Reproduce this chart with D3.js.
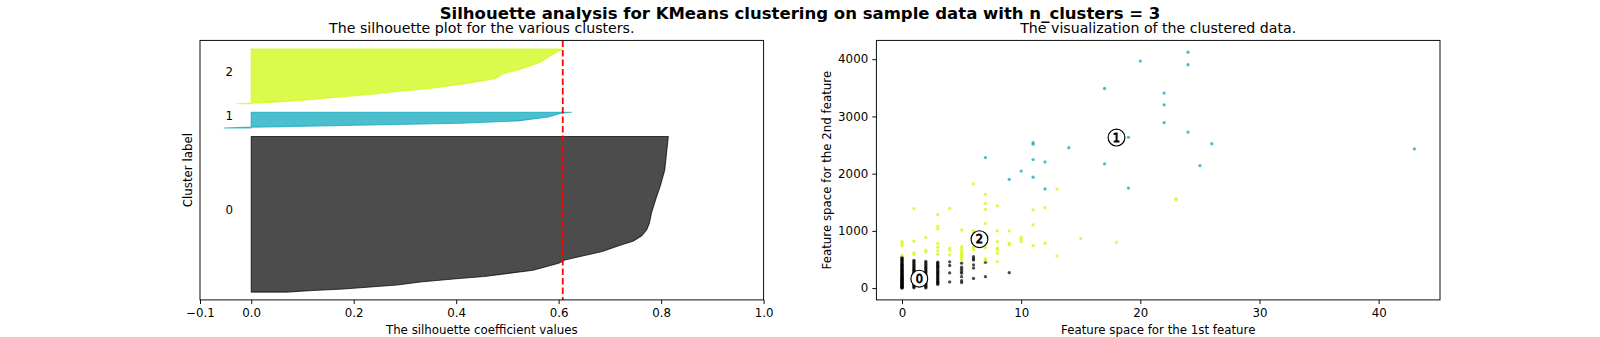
<!DOCTYPE html>
<html><head><meta charset="utf-8">
<script src="https://cdn.jsdelivr.net/npm/d3@7"></script>
<style>body{margin:0;background:#fff}svg{display:block}text{font-family:"DejaVu Sans",sans-serif;fill:#000}</style>
</head><body><svg id="c" width="1600" height="337"></svg>
<script>
// ---------------- data ----------------
const clusterIds = [0, 1, 2];
const clusterSizes = [200, 21, 71];
const clusterColors = ["#000000", "#00a4bb", "#ccf900"];
const avgSilhouette = 0.608;

// silhouette outline vertices: rank within cluster -> silhouette value
const sil0Rank  = [0, 2, 4, 9, 13, 17, 20, 28, 37, 41, 52, 60, 65, 72, 80, 88, 101, 122, 135, 156, 199];
const sil0Value = [0.069, 0.12, 0.18, 0.285, 0.33, 0.40, 0.455, 0.55, 0.60, 0.612, 0.685, 0.72, 0.745, 0.762, 0.772, 0.777, 0.781, 0.791, 0.798, 0.807, 0.814];
const sil1Rank  = [0, 1, 3, 6, 9, 14, 19, 20];
const sil1Value = [-0.053, 0.0, 0.16, 0.41, 0.52, 0.58, 0.606, 0.625];
const sil2Rank  = [0, 1, 2, 5, 8, 12, 16, 20, 26, 32, 38, 44, 53, 61, 67, 70];
const sil2Value = [-0.028, 0.01, 0.04, 0.115, 0.16, 0.232, 0.29, 0.355, 0.42, 0.476, 0.49, 0.525, 0.564, 0.583, 0.60, 0.606];

const silTicks = [-0.1, 0.0, 0.2, 0.4, 0.6, 0.8, 1.0];
const scatterXTicks = [0, 10, 20, 30, 40];
const scatterYTicks = [0, 1000, 2000, 3000, 4000];

// cluster 0 (black) points, grouped by 1st feature value
const c0Cols = [0, 1, 2, 3, 4, 5, 6, 7, 9];
const c0ColY = [
  [0, 8, 15, 25, 33, 42, 50, 60, 70, 78, 88, 97, 105, 115, 125, 133, 142, 152, 160, 170, 180, 190, 200, 212, 222, 235, 245, 258, 270, 282, 295, 305, 318, 330, 345, 360, 372, 388, 400, 415, 432, 448, 465, 485, 500, 520, 538],
  [5, 22, 40, 58, 72, 90, 108, 125, 145, 162, 180, 198, 215, 235, 255, 272, 290, 310, 330, 352, 370, 392, 415, 440, 462, 485],
  [3, 20, 38, 55, 75, 95, 115, 135, 158, 178, 200, 222, 245, 268, 290, 315, 340, 362, 388, 412, 440, 465],
  [65, 85, 102, 120, 140, 158, 178, 195, 215, 235, 255, 275, 295, 318, 338, 360, 380, 400, 420, 440, 455],
  [460, 395, 265, 108],
  [435, 365, 330, 290, 260, 200, 130, 96],
  [548, 515, 490, 405, 350, 170],
  [450, 200],
  [270]
];
// cluster 1 (cyan) points
const c1X = [7, 9, 10, 11, 11, 11, 11, 12, 12, 14, 17, 17, 19, 19, 20, 22, 22, 22, 24, 24, 24, 25, 26, 43];
const c1Y = [2280, 1900, 2045, 2540, 2515, 2245, 1937, 2205, 1732, 2452, 3488, 2172, 2635, 1748, 3966, 3408, 3203, 2890, 4122, 3903, 2726, 2139, 2522, 2431];
// cluster 2 (yellow-green) points, grouped by 1st feature value
const c2Cols = [0, 1, 2, 3, 4, 5, 6, 7, 8, 9, 10, 11, 12, 13, 15, 18, 23];
const c2ColY = [
  [815, 780, 740, 575],
  [1390, 820, 615, 590],
  [885, 660, 630],
  [1285, 1080, 1035, 780, 715, 650, 590],
  [1392, 697, 660, 580],
  [1015, 725, 690, 650, 610, 575, 540, 500],
  [1820, 1000, 975, 710, 670],
  [1640, 1480, 1375, 1130, 705, 510, 485],
  [1436, 999, 812, 697, 672, 609, 463],
  [999, 784, 754],
  [890, 850, 810],
  [1366, 1104, 742],
  [1406, 784],
  [1732, 562],
  [865],
  [800],
  [1560, 1540]
];
const centerX = [1.45, 18.0, 6.5];
const centerY = [165, 2630, 855];

// ---------------- layout ----------------
const svg = d3.select("#c");
const axTop = 40.4, axBottom = 299.9;
const L = [200, 763.6], R = [876.4, 1440];
const pt = 100 / 72 * 0.85;
const tickLen = 3.5 * pt, tickPad = 3.5 * pt;
const fsTick = 10 * pt, fsTitle = 12 * pt, fsSup = 14 * pt;

svg.append("text").attr("x", 800).attr("y", 18.5).attr("text-anchor", "middle")
  .attr("font-size", fsSup).attr("font-weight", "bold")
  .text("Silhouette analysis for KMeans clustering on sample data with n_clusters = 3");

// ---------------- silhouette plot ----------------
const silRanks = [sil0Rank, sil1Rank, sil2Rank];
const silValues = [sil0Value, sil1Value, sil2Value];
const N = d3.sum(clusterSizes);
const sx = d3.scaleLinear().domain([-0.1, 1.0]).range(L);
const sy = d3.scaleLinear().domain([0, N + (clusterSizes.length + 1) * 10]).range([axBottom, axTop]);
const g1 = svg.append("g");
let yLower = 10;
clusterIds.forEach((c, i) => {
  const pts = silRanks[i].map((r, j) => ({ y: yLower + r, v: silValues[i][j] }));
  const area = d3.area().y(d => sy(d.y)).x0(sx(0)).x1(d => sx(d.v));
  g1.append("path").attr("d", area(pts))
    .attr("fill", clusterColors[i]).attr("fill-opacity", 0.7)
    .attr("stroke", clusterColors[i]).attr("stroke-opacity", 0.7).attr("stroke-width", 1.1)
    .attr("stroke-linejoin", "round");
  g1.append("text").attr("x", sx(-0.05)).attr("y", sy(yLower + 0.5 * clusterSizes[i]))
    .attr("font-size", fsTick).text(String(c));
  yLower += clusterSizes[i] + 10;
});
g1.append("line").attr("x1", sx(avgSilhouette)).attr("x2", sx(avgSilhouette))
  .attr("y1", axTop).attr("y2", axBottom)
  .attr("stroke", "red").attr("stroke-width", 1.5 * pt).attr("stroke-dasharray", "6.6,2.9");

svg.append("g").attr("transform", `translate(0,${axBottom})`)
  .call(d3.axisBottom(sx).tickValues(silTicks).tickFormat(d3.format(".1f"))
    .tickSize(tickLen).tickPadding(tickPad).tickSizeOuter(0));
svg.append("rect").attr("x", L[0]).attr("y", axTop).attr("width", L[1] - L[0]).attr("height", axBottom - axTop)
  .attr("fill", "none").attr("stroke", "#000").attr("stroke-width", 0.8 * pt);
svg.append("text").attr("x", (L[0] + L[1]) / 2).attr("y", 33).attr("text-anchor", "middle")
  .attr("font-size", fsTitle).text("The silhouette plot for the various clusters.");
svg.append("text").attr("x", (L[0] + L[1]) / 2).attr("y", 334).attr("text-anchor", "middle")
  .attr("font-size", fsTick).text("The silhouette coefficient values");
svg.append("text").attr("transform", `translate(188,${(axTop + axBottom) / 2}) rotate(-90)`)
  .attr("text-anchor", "middle").attr("dy", "0.35em").attr("font-size", fsTick).text("Cluster label");

// ---------------- scatter plot ----------------
const pts = [];
c0Cols.forEach((x, i) => c0ColY[i].forEach(y => pts.push({ x, y, c: 0 })));
c1X.forEach((x, i) => pts.push({ x, y: c1Y[i], c: 1 }));
c2Cols.forEach((x, i) => c2ColY[i].forEach(y => pts.push({ x, y, c: 2 })));
const xe = d3.extent(pts, d => d.x), ye = d3.extent(pts, d => d.y);
const mx = (xe[1] - xe[0]) * 0.05, my = (ye[1] - ye[0]) * 0.05;
const px = d3.scaleLinear().domain([xe[0] - mx, xe[1] + mx]).range(R);
const py = d3.scaleLinear().domain([ye[0] - my, ye[1] + my]).range([axBottom, axTop]);
const g2 = svg.append("g");
g2.selectAll("circle.pt").data(pts).join("circle").attr("class", "pt")
  .attr("cx", d => px(d.x)).attr("cy", d => py(d.y)).attr("r", 1.65)
  .attr("fill", d => clusterColors[d.c]).attr("fill-opacity", 0.7);
clusterIds.forEach((c, i) => {
  g2.append("circle").attr("cx", px(centerX[i])).attr("cy", py(centerY[i])).attr("r", 8.4)
    .attr("fill", "#fff").attr("stroke", "#000").attr("stroke-width", pt);
  g2.append("text").attr("x", px(centerX[i])).attr("y", py(centerY[i])).attr("dy", "0.36em")
    .attr("text-anchor", "middle").attr("font-size", 11.4).attr("stroke", "#000").attr("stroke-width", 0.8)
    .text(String(c));
});
svg.append("g").attr("transform", `translate(0,${axBottom})`)
  .call(d3.axisBottom(px).tickValues(scatterXTicks).tickFormat(d3.format("d"))
    .tickSize(tickLen).tickPadding(tickPad).tickSizeOuter(0));
svg.append("g").attr("transform", `translate(${R[0]},0)`)
  .call(d3.axisLeft(py).tickValues(scatterYTicks).tickFormat(d3.format("d"))
    .tickSize(tickLen).tickPadding(tickPad).tickSizeOuter(0));
svg.append("rect").attr("x", R[0]).attr("y", axTop).attr("width", R[1] - R[0]).attr("height", axBottom - axTop)
  .attr("fill", "none").attr("stroke", "#000").attr("stroke-width", 0.8 * pt);
svg.append("text").attr("x", (R[0] + R[1]) / 2).attr("y", 33).attr("text-anchor", "middle")
  .attr("font-size", fsTitle).text("The visualization of the clustered data.");
svg.append("text").attr("x", (R[0] + R[1]) / 2).attr("y", 334).attr("text-anchor", "middle")
  .attr("font-size", fsTick).text("Feature space for the 1st feature");
svg.append("text").attr("transform", `translate(827,${(axTop + axBottom) / 2}) rotate(-90)`)
  .attr("text-anchor", "middle").attr("dy", "0.35em").attr("font-size", fsTick).text("Feature space for the 2nd feature");

// axis styling
svg.selectAll(".domain").remove();
svg.selectAll(".tick line").attr("stroke", "#000").attr("stroke-width", 0.8 * pt);
svg.selectAll(".tick text").attr("font-size", fsTick).attr("font-family", "DejaVu Sans").attr("fill", "#000");
</script></body></html>
